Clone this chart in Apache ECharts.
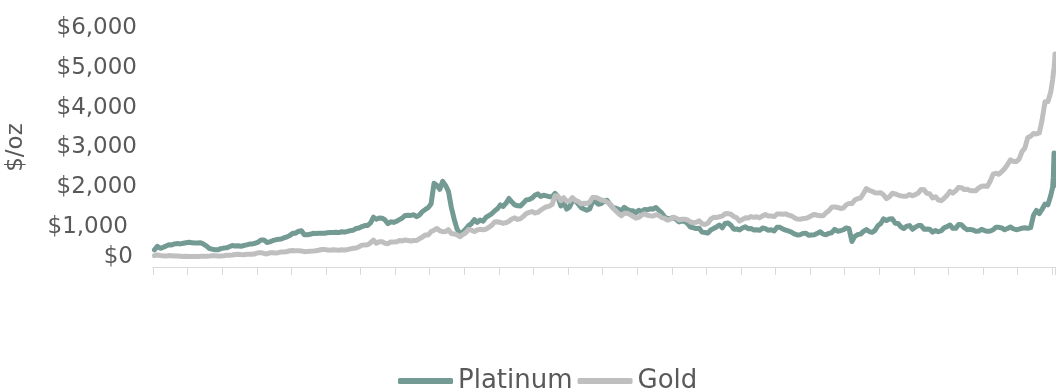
<!DOCTYPE html>
<html>
<head>
<meta charset="utf-8">
<title>Platinum and Gold, $/oz</title>
<script src="https://cdn.jsdelivr.net/npm/echarts@6/dist/echarts.min.js"></script>
<style>
  html, body { margin: 0; padding: 0; background: #ffffff; }
  #chart { width: 1056px; height: 388px; }
</style>
</head>
<body>
<div id="chart"></div>
<script>
// Monthly average prices in $/oz, January 2000 onwards (12 values per year).
const startYear = 2000;

const platinumMonthly = [
  430, 520, 470, 495, 525, 560, 555, 580, 590, 580, 595, 610,
  620, 610, 600, 605, 610, 575, 530, 465, 450, 430, 430, 460,
  475, 480, 510, 540, 525, 535, 520, 540, 555, 575, 580, 595,
  625, 680, 680, 615, 630, 660, 680, 695, 700, 735, 755, 795,
  845, 850, 900, 910, 810, 810, 820, 845, 840, 845, 850, 845,
  860, 865, 865, 870, 865, 885, 875, 895, 915, 925, 965, 980,
  1015, 1040, 1040, 1110, 1250, 1200, 1230, 1225, 1180, 1090, 1135, 1120,
  1150, 1190, 1230, 1295, 1300, 1295, 1310, 1265, 1310, 1395, 1445, 1490,
  1590, 2100, 2050, 1950, 2150, 2050, 1900, 1500, 1200, 950, 840, 880,
  950, 1040, 1090, 1190, 1120, 1180, 1150, 1245, 1290, 1335, 1405, 1460,
  1560, 1520, 1605, 1720, 1630, 1560, 1535, 1530, 1605, 1685, 1695, 1730,
  1800, 1835, 1770, 1800, 1785, 1765, 1765, 1850, 1755, 1530, 1625, 1455,
  1500, 1660, 1660, 1585, 1495, 1455, 1425, 1455, 1635, 1640, 1575, 1590,
  1655, 1675, 1580, 1490, 1480, 1450, 1405, 1500, 1450, 1420, 1415, 1360,
  1425, 1390, 1445, 1435, 1460, 1450, 1495, 1425, 1360, 1255, 1215, 1215,
  1245, 1195, 1130, 1155, 1145, 1090, 1000, 985, 965, 975, 875, 865,
  850, 930, 965, 1005, 1055, 985, 1095, 1105, 1050, 950, 955, 930,
  980, 1010, 960, 965, 930, 935, 920, 980, 960, 925, 935, 905,
  1000, 995, 955, 925, 905, 875, 830, 805, 810, 840, 850, 795,
  805, 810, 845, 885, 825, 810, 845, 860, 945, 900, 910, 935,
  980, 960, 640, 770, 815, 825, 895, 940, 890, 870, 920, 1035,
  1090, 1210, 1165, 1205, 1210, 1100, 1095, 1010, 965, 1025, 1040, 945,
  1000, 1040, 1040, 950, 955, 950, 875, 915, 885, 910, 985, 1015,
  1055, 970, 970, 1065, 1060, 985, 935, 945, 930, 895, 905, 945,
  915, 895, 905, 935, 1000, 995, 980, 935, 965, 1005, 960, 935,
  950, 975, 985, 970, 990, 1300, 1420, 1340, 1450, 1580, 1560, 1800
];

const goldMonthly = [
  285, 300, 287, 280, 275, 286, 282, 275, 274, 270, 266, 272,
  265, 262, 263, 261, 272, 270, 268, 273, 284, 283, 276, 276,
  282, 296, 294, 302, 314, 322, 314, 310, 319, 317, 319, 333,
  357, 359, 340, 328, 355, 356, 351, 360, 379, 379, 389, 407,
  414, 405, 406, 404, 384, 392, 398, 400, 406, 420, 439, 442,
  424, 423, 434, 428, 422, 431, 424, 438, 456, 470, 476, 510,
  549, 555, 557, 610, 676, 596, 633, 632, 598, 585, 627, 629,
  631, 665, 655, 679, 667, 655, 665, 665, 713, 754, 806, 803,
  889, 923, 968, 909, 888, 889, 939, 839, 829, 806, 760, 816,
  858, 943, 924, 890, 928, 946, 934, 949, 996, 1043, 1127, 1135,
  1118, 1095, 1114, 1149, 1205, 1233, 1193, 1215, 1271, 1342, 1370, 1391,
  1356, 1372, 1424, 1474, 1510, 1529, 1573, 1790, 1780, 1665, 1739, 1652,
  1656, 1743, 1675, 1649, 1589, 1598, 1594, 1630, 1745, 1747, 1722, 1684,
  1671, 1627, 1593, 1487, 1414, 1343, 1286, 1347, 1349, 1316, 1275, 1225,
  1244, 1300, 1336, 1299, 1287, 1279, 1311, 1296, 1239, 1222, 1176, 1201,
  1251, 1227, 1179, 1198, 1199, 1181, 1131, 1117, 1125, 1159, 1086, 1068,
  1097, 1200, 1246, 1242, 1260, 1276, 1337, 1341, 1326, 1267, 1236, 1152,
  1192, 1234, 1231, 1267, 1246, 1260, 1236, 1283, 1315, 1280, 1283, 1265,
  1331, 1331, 1325, 1334, 1303, 1282, 1238, 1202, 1198, 1215, 1221, 1250,
  1291, 1320, 1300, 1285, 1284, 1359, 1413, 1500, 1510, 1495, 1471, 1479,
  1560, 1597, 1592, 1683, 1716, 1732, 1846, 1968, 1922, 1900, 1866, 1858,
  1867, 1808, 1718, 1760, 1850, 1834, 1807, 1785, 1775, 1777, 1821, 1790,
  1817, 1856, 1948, 1937, 1849, 1837, 1733, 1765, 1681, 1665, 1726, 1798,
  1898, 1855, 1912, 1999, 1992, 1943, 1951, 1918, 1916, 1916, 1985, 2027,
  2034, 2024, 2159, 2331, 2351, 2326, 2398, 2470, 2572, 2690, 2651, 2648,
  2709, 2895, 2984, 3250, 3280, 3352, 3340, 3366, 3700, 4150, 4150, 4400
];

// Closing weeks of January 2026.
const tailDates    = ['2026-01-05', '2026-01-12', '2026-01-20', '2026-01-26', '2026-01-30'];
const platinumTail = [2000, 2250, 2860, 2500, 2050];
const goldTail     = [4700, 4850, 5000, 5150, 5350];

const yTicks = [0, 1000, 2000, 3000, 4000, 5000, 6000];
const endDate = '2026-01-30';

function decimalYear(iso) {
  const d = new Date(iso + 'T00:00:00Z');
  const y = d.getUTCFullYear();
  const start = Date.UTC(y, 0, 1);
  const next = Date.UTC(y + 1, 0, 1);
  return y + (d.getTime() - start) / (next - start);
}

function buildSeries(monthly, tail) {
  const pts = monthly.map((v, i) => [startYear + (i + 0.5) / 12, v]);
  tail.forEach((v, i) => pts.push([decimalYear(tailDates[i]), v]));
  return pts;
}

const FONT = 'DejaVu Sans';
const TEXT = '#595959';

const chart = echarts.init(document.getElementById('chart'), null, { renderer: 'canvas' });

chart.setOption({
  animation: false,
  backgroundColor: '#ffffff',
  grid: {
    left: 153, right: 1, top: 28, bottom: 121,
    containLabel: false,
    outerBoundsMode: 'none'
  },
  legend: {
    left: 393,
    top: 363,
    itemGap: 5,
    itemWidth: 55,
    itemHeight: 6,
    icon: 'roundRect',
    textStyle: { fontFamily: FONT, fontSize: 26, color: TEXT },
    data: ['Platinum', 'Gold']
  },
  xAxis: {
    type: 'value',
    min: startYear,
    max: decimalYear(endDate),
    interval: 1,
    axisLine: { show: true, lineStyle: { color: '#D9D9D9', width: 1 } },
    axisTick: { show: true, length: 8, lineStyle: { color: '#D9D9D9', width: 1 } },
    axisLabel: { show: false },
    splitLine: { show: false }
  },
  yAxis: {
    type: 'value',
    min: yTicks[0],
    max: yTicks[yTicks.length - 1],
    interval: 1000,
    name: '$/oz',
    nameLocation: 'middle',
    nameGap: 125,
    nameRotate: 90,
    nameTextStyle: { fontFamily: FONT, fontSize: 23, color: TEXT },
    axisLine: { show: false },
    axisTick: { show: false },
    splitLine: { show: false },
    axisLabel: {
      margin: 16,
      fontFamily: FONT,
      fontSize: 23,
      color: TEXT,
      formatter: function (v) {
        const s = '$' + v.toLocaleString('en-US');
        if (v === 0) return '{z|' + s + '}';
        if (v === 1000) return '{k|' + s + '}';
        return s;
      },
      rich: {
        z: { fontFamily: FONT, fontSize: 23, color: TEXT, padding: [0, 4, 20, 0] },
        k: { fontFamily: FONT, fontSize: 23, color: TEXT, padding: [0, 9, 0, 0] }
      }
    }
  },
  series: [
    {
      name: 'Platinum',
      type: 'line',
      data: buildSeries(platinumMonthly, platinumTail),
      showSymbol: false,
      symbol: 'none',
      lineStyle: { color: '#739A93', width: 5, join: 'round', cap: 'round' },
      itemStyle: { color: '#739A93' }
    },
    {
      name: 'Gold',
      type: 'line',
      data: buildSeries(goldMonthly, goldTail),
      showSymbol: false,
      symbol: 'none',
      lineStyle: { color: '#BFBFBF', width: 5, join: 'round', cap: 'round' },
      itemStyle: { color: '#BFBFBF' }
    }
  ]
});
</script>
</body>
</html>
